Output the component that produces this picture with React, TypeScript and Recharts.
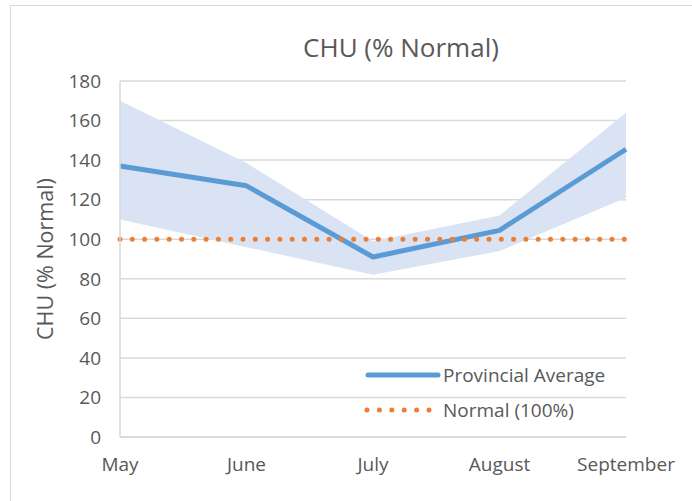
import React from 'react';
import { ComposedChart, Area, Line, XAxis, YAxis, CartesianGrid, Legend } from 'recharts';

const months = ['May', 'June', 'July', 'August', 'September'];
const provincial = [137, 127, 91, 104.5, 145.5];
const bandLow = [110, 96, 82, 94, 121];
const bandHigh = [170, 138.5, 99, 112, 164];
const normal = [100, 100, 100, 100, 100];
const yTicks = [0, 20, 40, 60, 80, 100, 120, 140, 160, 180];

const data = months.map((m, i) => ({
  month: m,
  band: [bandLow[i], bandHigh[i]],
  provincial: provincial[i],
  normal: normal[i],
}));

const FONT = '"Open Sans", sans-serif';
const TXT = '#595959';

const LegendContent = () => (
  <svg width={300} height={75} style={{ overflow: 'visible' }}>
    <line x1={8} y1={15} x2={78} y2={15} stroke="#5b9bd5" strokeWidth={5} strokeLinecap="round" />
    <text x={83} y={15} dy="0.35em" fill={TXT} fontSize={19} fontFamily={FONT}>Provincial Average</text>
    <line x1={7} y1={50} x2={74} y2={50} stroke="#ed7d31" strokeWidth={5} strokeLinecap="round" strokeDasharray="0 12.4" />
    <text x={83} y={50} dy="0.35em" fill={TXT} fontSize={19} fontFamily={FONT}>Normal (100%)</text>
  </svg>
);

export default function App() {
  return (
    <div style={{ position: 'absolute', left: 0, top: 0, width: 692, height: 501, background: '#fff', overflow: 'hidden' }}>
      <div style={{ position: 'absolute', left: 10, top: 5, width: 800, height: 600, border: '1px solid #d9d9d9' }} />
      <div style={{ position: 'absolute', left: 0, top: 29, width: 802, textAlign: 'center', fontFamily: FONT, fontSize: 26, lineHeight: '36px', color: TXT }}>
        CHU (% Normal)
      </div>
      <div style={{ position: 'absolute', left: 0, top: 0 }}>
        <ComposedChart width={692} height={501} data={data} margin={{ top: 81, right: 66, bottom: 34, left: 0 }}>
          <CartesianGrid vertical={false} stroke="#d9d9d9" strokeWidth={1.5} />
          <XAxis
            dataKey="month"
            scale="point"
            height={30}
            tickLine={false}
            axisLine={{ stroke: '#d9d9d9', strokeWidth: 1.5 }}
            tickMargin={15}
            tick={{ fill: TXT, fontSize: 19, fontFamily: FONT }}
            interval={0}
          />
          <YAxis
            width={120}
            domain={[0, 180]}
            ticks={yTicks}
            tickLine={false}
            axisLine={{ stroke: '#d9d9d9', strokeWidth: 1.5 }}
            tickMargin={13}
            tick={{ fill: TXT, fontSize: 19, fontFamily: FONT }}
            label={{ value: 'CHU (% Normal)', angle: -90, position: 'center', dx: -15, fill: TXT, fontSize: 21.5, fontFamily: FONT }}
          />
          <Area dataKey="band" stroke="none" fill="#dae3f3" fillOpacity={1} isAnimationActive={false} legendType="none" />
          <Line dataKey="provincial" stroke="#5b9bd5" strokeWidth={5} dot={false} activeDot={false} isAnimationActive={false} strokeLinejoin="round" />
          <Line dataKey="normal" stroke="#ed7d31" strokeWidth={5} strokeDasharray="0 12.3" strokeLinecap="round" dot={false} activeDot={false} isAnimationActive={false} />
          <Legend
            layout="horizontal"
            verticalAlign="middle"
            align="center"
            content={<LegendContent />}
            wrapperStyle={{ position: 'absolute', left: 360, top: 360, width: 300, height: 75 }}
          />
        </ComposedChart>
      </div>
    </div>
  );
}
